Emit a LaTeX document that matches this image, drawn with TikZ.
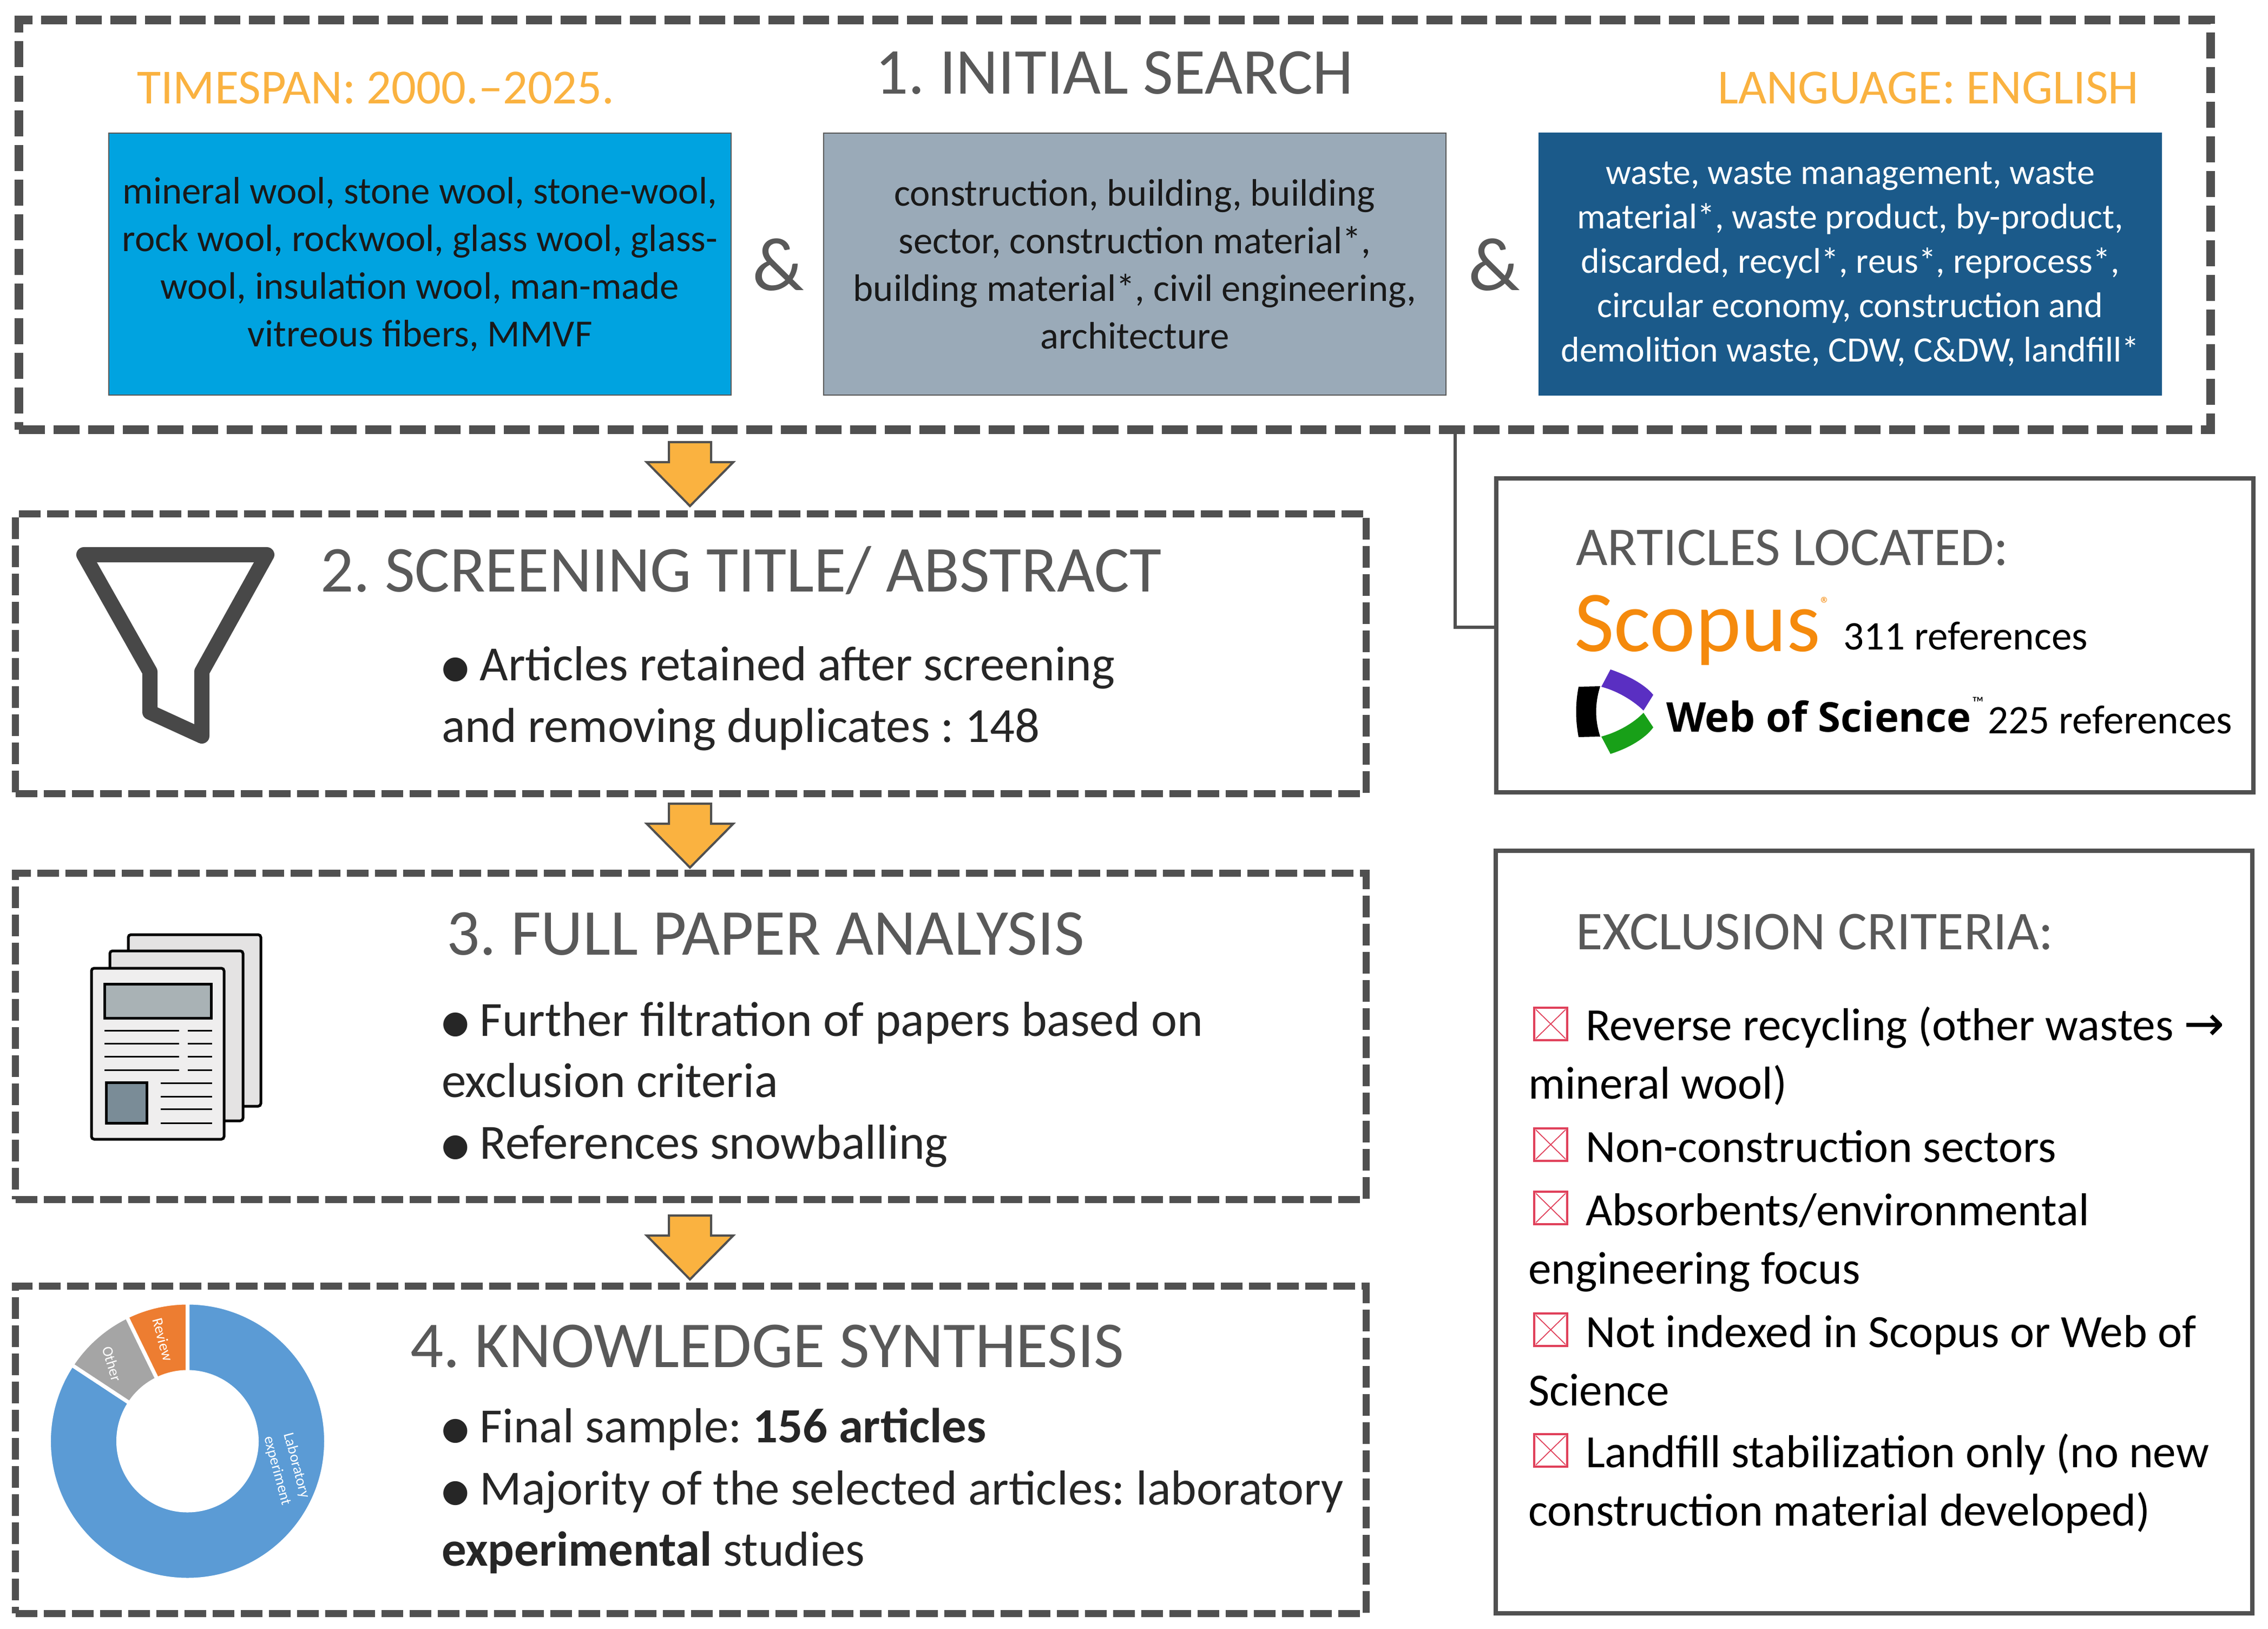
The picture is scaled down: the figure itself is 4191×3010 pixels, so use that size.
\documentclass[tikz,border=0pt]{standalone}
\usepackage{fontspec}
\setmainfont{Carlito}
\newfontfamily\dvfont{DejaVu Sans}
\newfontfamily\wosfont{Open Sans}
\usetikzlibrary{calc}
\definecolor{ink}{HTML}{595959}
\definecolor{frame}{HTML}{505050}
\definecolor{amber}{HTML}{FAB240}
\definecolor{cyanbox}{HTML}{00A3E0}
\definecolor{greybox}{HTML}{9AAAB8}
\definecolor{navybox}{HTML}{1B5A8A}
\definecolor{crossred}{HTML}{E0405A}
\definecolor{dblue}{HTML}{5B9BD5}
\definecolor{dorange}{HTML}{ED7D31}
\definecolor{dgrey}{HTML}{A5A5A5}
\definecolor{scopusorange}{HTML}{F58A0C}
\definecolor{wospurple}{HTML}{5A2FC2}
\definecolor{wosgreen}{HTML}{18A018}
\definecolor{pageheader}{HTML}{A9B2B5}
\definecolor{pageimage}{HTML}{7A8C97}
\definecolor{pagea}{HTML}{E4E3E3}
\definecolor{pageb}{HTML}{EFEEEE}
\newcommand{\fsz}[2]{\fontsize{#1}{#2}\selectfont}
\newcommand{\bul}{\raisebox{1.2pt}{\dvfont\fsz{11.6}{13}●}\hspace{4pt}}
\newcommand{\xmark}[2]{%
  \draw[crossbox] (#1,#2) rectangle ++(61,60);
  \draw[crossline] (#1+3,#2+3) -- ++(55,54) (#1+58,#2+3) -- ++(-55,54);}
\newcommand{\sector}[3]{%
  \fill[#3,draw=white,line width=1.4pt] ($(dc)+(#1:51.2pt)$) arc[start angle=#1,end angle=#2,radius=51.2pt]
   -- ($(dc)+(#2:25.6pt)$) arc[start angle=#2,end angle=#1,radius=25.6pt] -- cycle;}
\tikzset{
  mainbox/.style={rectangle,draw=frame,line width=3.2pt,dash pattern=on 9.6pt off 3.2pt,inner sep=0pt,outer sep=0pt},
  stepbox/.style={rectangle,draw=frame,line width=2.6pt,dash pattern=on 8pt off 2.4pt,inner sep=0pt,outer sep=0pt},
  sidebox/.style={rectangle,draw=frame,line width=1.5pt,inner sep=0pt,outer sep=0pt},
  termbox/.style={rectangle,draw=ink,line width=0.5pt,inner sep=0pt,outer sep=0pt,align=center,minimum width=230pt,minimum height=96.8pt},
  flowarrow/.style={fill=amber,draw=frame,line width=0.8pt,line join=miter},
  head/.style={inner sep=0pt,anchor=base west,text=ink,font=\frenchspacing\fsz{24.2}{29}},
  sidehead/.style={inner sep=0pt,anchor=base west,text=ink,font=\frenchspacing\fsz{20.2}{24}},
  limit/.style={inner sep=0pt,anchor=base west,text=amber,font=\frenchspacing\fsz{18.1}{22}},
  amp/.style={inner sep=0pt,anchor=center,text=ink,font=\fsz{28}{32}},
  body/.style={inner sep=0pt,anchor=base west,align=left,text=black!85,font=\frenchspacing\fsz{18.15}{22.6}},
  crit/.style={inner sep=0pt,anchor=base west,align=left,text=black,font=\frenchspacing\fsz{17.05}{21.6}},
  refs/.style={inner sep=0pt,anchor=base west,text=black,font=\frenchspacing\fsz{15}{18}},
  crossbox/.style={draw=crossred,line width=0.7pt},
  crossline/.style={draw=crossred,line width=0.35pt},
  slice/.style={inner sep=0pt,text=white,align=center,font=\fsz{5.6}{7.4}},
  pageback/.style={draw=black,line width=1pt,fill=#1,rounded corners=1pt},
  printline/.style={draw=black,line width=0.6pt}
}
\begin{document}
\begin{tikzpicture}[x=0.2pt,y=-0.2pt]
\fill[white] (0,0) rectangle (4191,3010);
\useasboundingbox (0,0) rectangle (4191,3010);
% dashed step frames
\node[mainbox,minimum width=810pt,minimum height=151.4pt] (b1) at (2060,415.5) {};
\node[stepbox,minimum width=499pt,minimum height=103.2pt] (b2) at (1276.5,1208) {};
\node[stepbox,minimum width=499pt,minimum height=120.4pt] (b3) at (1276.5,1915) {};
\node[stepbox,minimum width=499pt,minimum height=121pt] (b4) at (1276.5,2678.5) {};
% search term boxes
\node[termbox,fill=cyanbox,text=black!90,font=\frenchspacing\fsz{14.15}{17.6}] (t1) at (776,488) {mineral wool, stone wool, stone-wool,\\rock wool, rockwool, glass wool, glass-\\wool, insulation wool, man-made\\vitreous fibers, MMVF};
\node[termbox,fill=greybox,text=black!90,font=\frenchspacing\fsz{14.15}{17.6}] (t2) at (2097,488) {construction, building, building\\sector, construction material*,\\building material*, civil engineering,\\architecture};
\node[termbox,fill=navybox,draw=navybox,text=white,font=\frenchspacing\fsz{13.17}{16.4}] (t3) at (3419,488) {waste, waste management, waste\\material*, waste product, by-product,\\discarded, recycl*, reus*, reprocess*,\\circular economy, construction and\\demolition waste, CDW, C\&DW, landfill*};
\node[amp] (and1) at (1438,489) {\&};
\node[amp] (and2) at (2761,489) {\&};
% headings
\node[head] (h1) at (1616,174) {1. INITIAL SEARCH};
\node[limit] (span) at (252,192) {TIMESPAN: 2000.–2025.};
\node[limit] (lang) at (3173,192) {LANGUAGE: ENGLISH};
\node[head] (h2) at (591,1094) {2. SCREENING TITLE/ ABSTRACT};
\node[head] (h3) at (824,1764) {3. FULL PAPER ANALYSIS};
\node[head] (h4) at (757,2526) {4. KNOWLEDGE SYNTHESIS};
% step texts
\node[body] (s2) at (815,1371) {\bul Articles retained after screening\\and removing duplicates : 148};
\node[body] (s3a) at (815,2027) {\bul Further filtration of papers based on\\exclusion criteria};
\node[body] (s3b) at (815,2141) {\bul References snowballing};
\node[body] (s4a) at (815,2665) {\bul Final sample: \textbf{156 articles}};
\node[body] (s4b) at (815,2893) {\bul Majority of the selected articles: laboratory\\\textbf{experimental} studies};
% arrows between steps
\coordinate (a1) at (1275,817);
\coordinate (a2) at (1275,1485);
\coordinate (a3) at (1275,2246);
\foreach \a in {a1,a2,a3}{
  \draw[flowarrow] ($(\a)+(-39,0)$) -- ($(\a)+(39,0)$) -- ($(\a)+(39,37)$) -- ($(\a)+(80,37)$) -- ($(\a)+(0,118)$) -- ($(\a)+(-80,37)$) -- ($(\a)+(-39,37)$) -- cycle;
}
% side boxes
\node[sidebox,minimum width=279.8pt,minimum height=116pt] (loc) at (3464.5,1174) {};
\node[sidebox,minimum width=279.6pt,minimum height=281.8pt] (exc) at (3463,2276.5) {};
\coordinate (cb) at (2689,794);
\coordinate (cl) at ($(loc.west)+(0,-15)$);
\draw[frame,line width=1.2pt] (cb) |- (cl);
% articles located
\node[sidehead] (al) at (2911,1045) {ARTICLES LOCATED:};
\node[inner sep=0pt,anchor=base west,text=scopusorange,font=\fsz{32}{36}] (sc) at (2908,1203) {Scopus};
\node[inner sep=0pt,text=scopusorange,font=\fsz{7}{8}] (scr) at (3373,1115) {®};
\node[refs] (r1) at (3405,1200) {311 references};
\node[inner sep=0pt,anchor=base west,text=black,font=\wosfont\bfseries\fsz{15.2}{18}] (ws) at (3078,1353) {Web of Science};
\node[inner sep=0pt,text=black,font=\fsz{6}{7}] (wt) at (3655,1298) {™};
\node[refs] (r2) at (3672,1355) {225 references};
\fill[black] (2917,1269) -- (2957,1268) .. controls (2947,1300) and (2947,1330) .. (2957,1361) -- (2917,1362) .. controls (2911,1330) and (2911,1300) .. (2917,1269) -- cycle;
\fill[wospurple] (2976,1237) .. controls (3008,1248) and (3040,1265) .. (3055,1284) -- (3037,1313) .. controls (3020,1296) and (2990,1277) .. (2959,1269) -- cycle;
\fill[wosgreen] (2959,1361) .. controls (2990,1353) and (3020,1335) .. (3037,1317) -- (3055,1344) .. controls (3040,1365) and (3008,1383) .. (2976,1393) -- cycle;
% exclusion
\node[sidehead] (eh) at (2911,1754) {EXCLUSION CRITERIA:};
\node[crit] (c1) at (2823,2030) {\hspace{21.2pt}Reverse recycling (other wastes {\dvfont\fsz{18}{18}→}\\mineral wool)};
\node[crit] (c2) at (2929,2147) {Non-construction sectors};
\node[crit] (c3) at (2823,2372) {\hspace{21.2pt}Absorbents/environmental\\engineering focus};
\node[crit] (c4) at (2823,2597) {\hspace{21.2pt}Not indexed in Scopus or Web of\\Science};
\node[crit] (c5) at (2823,2819) {\hspace{21.2pt}Landfill stabilization only (no new\\construction material developed)};
\xmark{2835}{1862}
\xmark{2835}{2085}
\xmark{2835}{2202}
\xmark{2835}{2427}
\xmark{2835}{2650}
% funnel
\draw[draw=frame!90!black,line width=5.6pt,line join=round,line cap=round] (155,1025) -- (493,1025) -- (373,1241) -- (373,1360) -- (277,1316) -- (277,1241) -- cycle;
% papers
\draw[pageback=pagea] (237,1727) rectangle (482,2044);
\draw[pageback=pagea] (203,1757) rectangle (449,2071);
\draw[pageback=pageb] (169,1789) rectangle (414,2105);
\draw[fill=pageheader,draw=black,line width=1pt] (193,1818) rectangle (390,1881);
\draw[fill=pageimage,draw=black,line width=1pt] (196,2000) rectangle (271,2075);
\foreach \yy in {1904,1928,1952,1977}{
  \draw[printline] (193,\yy) -- (331,\yy);
  \draw[printline] (347,\yy) -- (392,\yy);
}
\foreach \yy in {2001,2026,2049,2075}{
  \draw[printline] (297,\yy) -- (392,\yy);
}
% donut
\coordinate (dc) at (346.5,2663);
\sector{90}{-213.4}{dblue}
\sector{146.6}{116}{dgrey}
\sector{116}{90}{dorange}
\node[slice,rotate=-75] (l1) at (301,2475) {Review};
\node[slice,rotate=-73] (l2) at (207,2520) {Other};
\node[slice,rotate=-75] (l3) at (530,2713) {Laboratory\\experiment};
\end{tikzpicture}
\end{document}
